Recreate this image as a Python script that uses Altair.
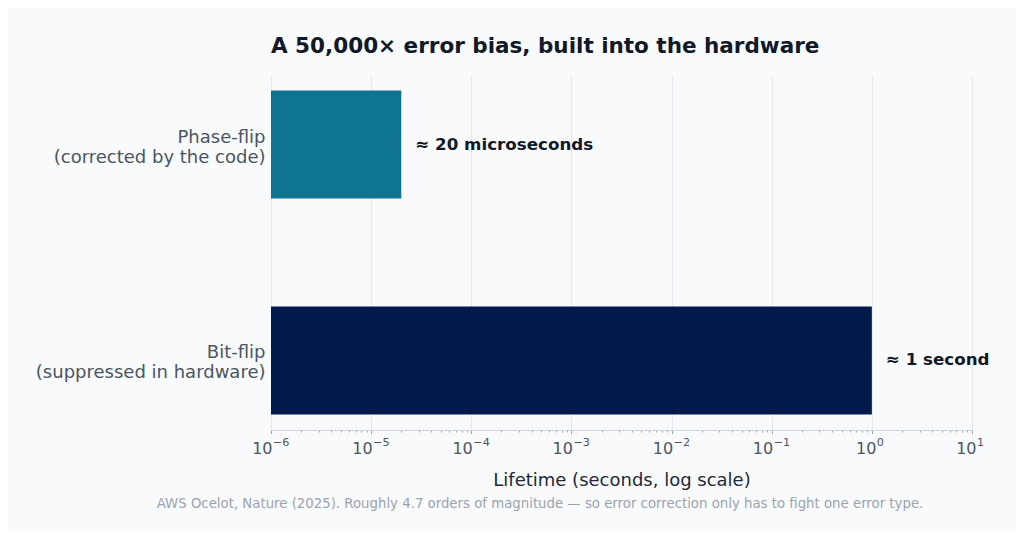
import altair as alt
import pandas as pd

categories = ["Phase-flip|(corrected by the code)", "Bit-flip|(suppressed in hardware)"]
lifetimes = [2e-5, 1.0]
annotations = ["≈ 20 microseconds", "≈ 1 second"]
colors = ["#0e7490", "#011a4b"]
base_value = 1e-6

decade_powers = [-6, -5, -4, -3, -2, -1, 0, 1]
decade_exponent_labels = ["−6", "−5", "−4", "−3", "−2", "−1", "0", "1"]
minor_multipliers = [1, 2, 3, 4, 5, 6, 7, 8, 9]

tick_values = [m * 10.0 ** k for k in decade_powers[:-1] for m in minor_multipliers] + [10.0 ** decade_powers[-1]]

df = pd.DataFrame({
    "cat": categories,
    "life": lifetimes,
    "base": [base_value] * len(categories),
    "note": annotations,
    "color": colors,
})

exp_df = pd.DataFrame({
    "v": [10.0 ** k for k in decade_powers],
    "e": decade_exponent_labels,
    "neg": [k < 0 for k in decade_powers],
})

major = "abs(log(datum.value)/LN10 - round(log(datum.value)/LN10)) < 1e-6"

x_scale = alt.Scale(type="log", domain=[1e-6, 10], nice=False)
y_scale = alt.Scale(domain=categories, paddingInner=0.5, paddingOuter=0.072)

x_axis = alt.Axis(
    values=tick_values,
    labelExpr=f"({major}) ? '10' : ''",
    title="Lifetime (seconds, log scale)",
    titleFont="DejaVu Sans",
    titleFontSize=18,
    titleFontWeight="normal",
    titleColor="#1f2937",
    titleBaseline="alphabetic",
    titleY=55,
    labelFont="DejaVu Sans",
    labelFontSize=16,
    labelColor="#4b5563",
    labelAlign="right",
    labelBaseline="alphabetic",
    labelOffset={"condition": {"test": "datum.value < 1", "value": 1}, "value": 4},
    labelPadding=20,
    labelOverlap=False,
    labelFlush=False,
    domainColor="#d1d5db",
    tickColor="#9ca3af",
    tickSize={"condition": {"test": major, "value": 3.5}, "value": 2},
    grid=True,
    gridColor="#e5e7eb",
    gridOpacity={"condition": {"test": major, "value": 1}, "value": 0},
)

y_axis = alt.Axis(
    title=None,
    labelExpr="split(datum.label, '|')",
    labelFont="DejaVu Sans",
    labelFontSize=18,
    labelColor="#4b5563",
    labelPadding=6,
    labelLineHeight=20,
    labelOffset=-7,
    labelLimit=400,
    ticks=False,
    domain=False,
    grid=False,
)

bars = alt.Chart(df).mark_bar().encode(
    y=alt.Y("cat:N", scale=y_scale, axis=y_axis, sort=categories),
    x=alt.X("life:Q", scale=x_scale, axis=x_axis),
    x2="base:Q",
    color=alt.Color("color:N", scale=None),
)

notes = alt.Chart(df).mark_text(
    align="left", baseline="middle", dx=14, font="DejaVu Sans",
    fontSize=16.7, fontWeight="bold", color="#111827",
).encode(
    y=alt.Y("cat:N", scale=y_scale, sort=categories),
    x=alt.X("life:Q", scale=x_scale),
    text="note:N",
)

exp_style = dict(align="left", baseline="alphabetic", font="DejaVu Sans", fontSize=11.2, color="#4b5563")

exp_neg = alt.Chart(exp_df).transform_filter("datum.neg").mark_text(dx=2, **exp_style).encode(
    x=alt.X("v:Q", scale=x_scale),
    y=alt.value(371),
    text="e:N",
)
exp_pos = alt.Chart(exp_df).transform_filter("!datum.neg").mark_text(dx=5, **exp_style).encode(
    x=alt.X("v:Q", scale=x_scale),
    y=alt.value(371),
    text="e:N",
)

footnote_df = pd.DataFrame({"t": ["AWS Ocelot, Nature (2025). Roughly 4.7 orders of magnitude — so error correction only has to fight one error type."]})
footnote = alt.Chart(footnote_df).mark_text(
    align="center", baseline="middle", font="DejaVu Sans", fontSize=13.3, color="#9ca3af",
).encode(
    text="t:N",
    x=alt.value(269),
    y=alt.value(429),
)

chart = alt.layer(bars, notes, exp_neg, exp_pos, footnote).properties(
    width=701,
    height=355,
    background="#f8fafc",
    autosize=alt.AutoSizeParams(type="none"),
    padding={"left": 263, "top": 67, "right": 44, "bottom": 100},
    title=alt.TitleParams(
        "A 50,000× error bias, built into the hardware",
        anchor="start",
        frame="group",
        font="DejaVu Sans",
        fontSize=21.5,
        fontWeight="bold",
        color="#111827",
        offset=18,
    ),
).configure_view(stroke=None)

chart.save("out.html", embed_options={"renderer": "svg", "actions": False})
